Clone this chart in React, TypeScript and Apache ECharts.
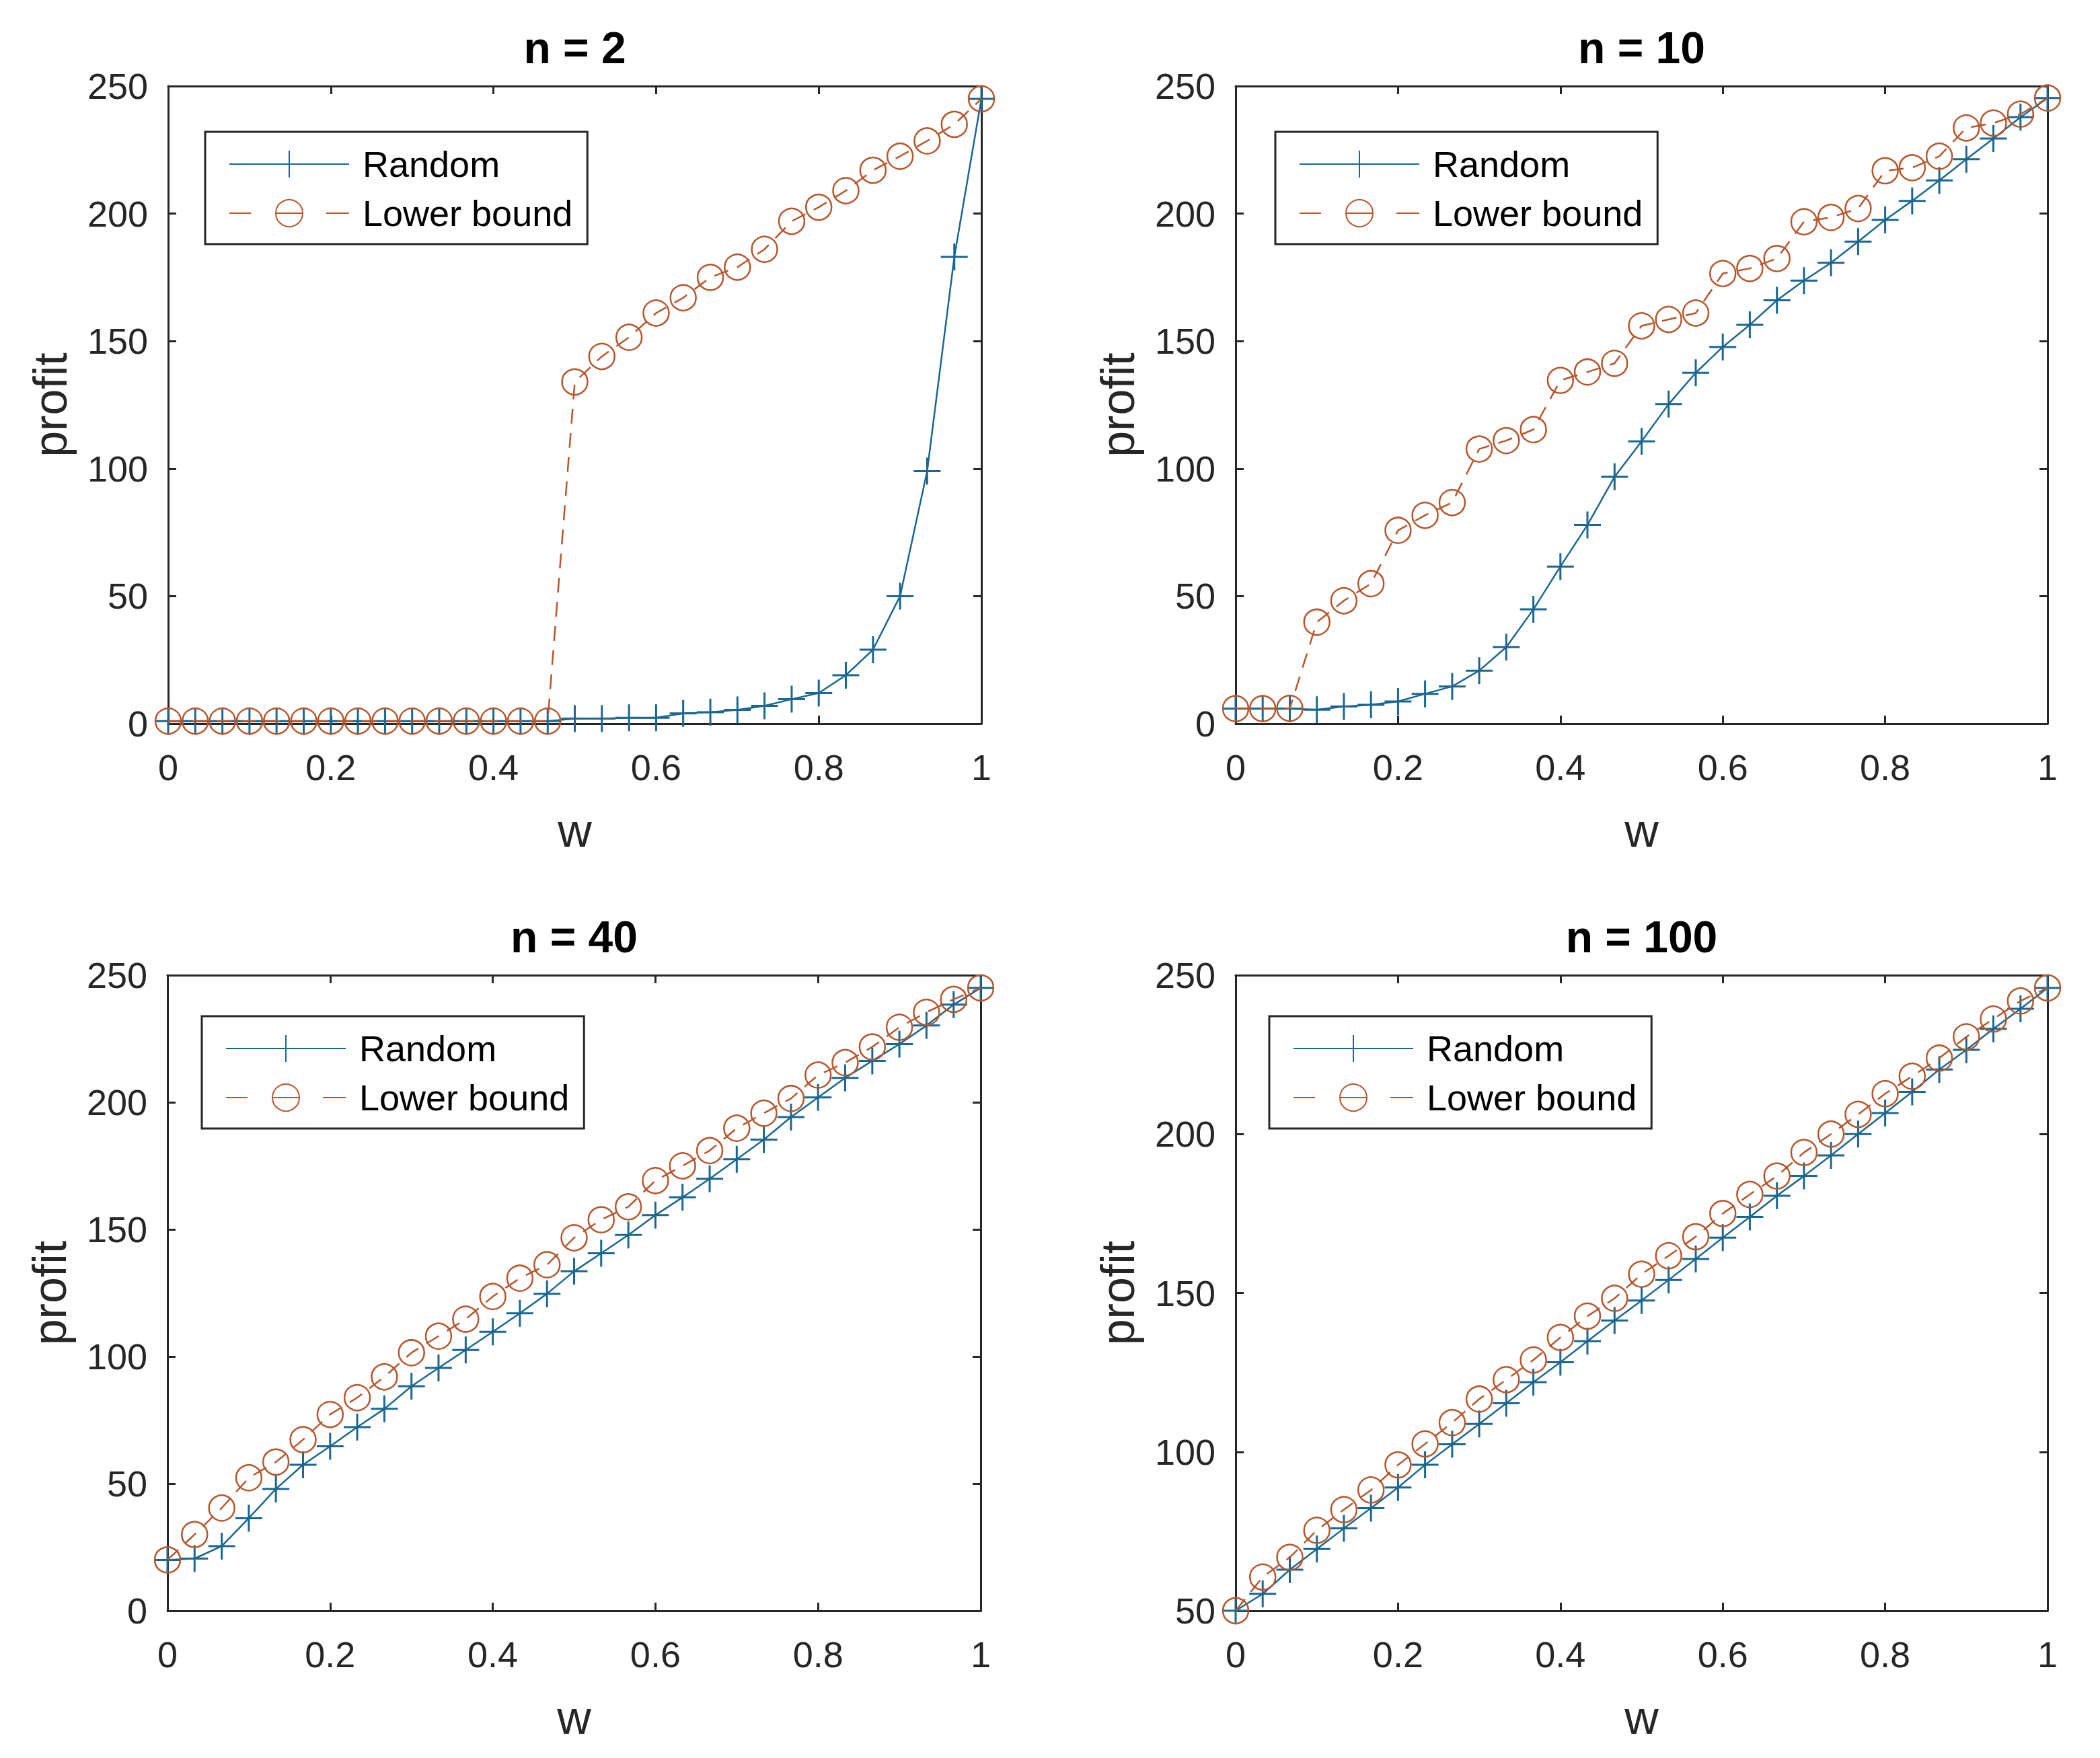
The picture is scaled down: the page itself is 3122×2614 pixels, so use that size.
import React, { useEffect, useRef } from "react";
import * as echarts from "echarts";

// x positions (w)
const W = [
  0, 0.0333, 0.0667, 0.1, 0.1333, 0.1667, 0.2, 0.2333, 0.2667, 0.3, 0.3333,
  0.3667, 0.4, 0.4333, 0.4667, 0.5, 0.5333, 0.5667, 0.6, 0.6333, 0.6667, 0.7,
  0.7333, 0.7667, 0.8, 0.8333, 0.8667, 0.9, 0.9333, 0.9667, 1,
];

const TITLES = ["n = 2", "n = 10", "n = 40", "n = 100"];
const SERIES_NAMES = ["Random", "Lower bound"];

// n = 2
const RANDOM_N2 = [
  1, 1, 1, 1, 1, 1, 1, 1, 1, 1, 1, 1, 1, 1, 1, 2, 2, 2.3, 2.3, 4, 4.5, 5.4, 7,
  9.6, 12, 19, 29, 50, 99, 183, 245,
];
const LOWER_N2 = [
  1, 1, 1, 1, 1, 1, 1, 1, 1, 1, 1, 1, 1, 1, 1, 134, 144, 151.5, 161, 167, 175,
  179, 186, 197, 202.5, 209, 217, 222.5, 228.5, 235, 245,
];

// n = 10
const RANDOM_N10 = [
  5.9, 5.9, 5.9, 5.5, 6.7, 7.4, 8.7, 11.7, 14.6, 20.8, 30, 44.8, 61.6, 77.9,
  96.8, 110.7, 125.3, 137.6, 147.7, 156.4, 166, 173.7, 180.7, 189, 197.5, 205,
  213, 221.3, 229.4, 237.8, 245.3,
];
const LOWER_N10 = [
  5.9, 5.9, 6, 39.8, 48.2, 54.9, 75.8, 81.7, 86.7, 107.7, 111, 115.3, 134.6,
  137.9, 141.3, 156, 158.5, 161, 176.5, 178.5, 182.4, 196.8, 198.5, 202, 216.8,
  218, 222.5, 233.6, 235.5, 239, 245.3,
];

// n = 40
const RANDOM_N40 = [
  20, 20.5, 25.4, 36.4, 47.9, 57.4, 64.7, 72.2, 79.4, 88.3, 95.5, 102.6, 109.7,
  117, 124.7, 133.5, 140.6, 147.8, 155.6, 162.6, 169.9, 177.6, 185.3, 194.2,
  201.9, 209.6, 216.3, 222.9, 230.2, 238.4, 245,
];
const LOWER_N40 = [
  20, 30, 40.4, 52.3, 58.5, 67.3, 77.2, 83.8, 92, 101.5, 108, 114.7, 123.6,
  130.8, 136.1, 146.7, 153.8, 158.9, 169.2, 175, 181, 189.8, 195.7, 201.5,
  210.7, 215.6, 221.8, 229.5, 235.4, 240.5, 245,
];

// n = 100
const RANDOM_N100 = [
  50, 55.3, 62.9, 69.4, 75.9, 82.3, 88.8, 95.9, 102.4, 108.8, 115.3, 121.9,
  128.2, 134.8, 141.3, 147.6, 154.1, 160.7, 167.4, 173.9, 180.6, 186.8, 193.3,
  200, 206.6, 213.3, 220.3, 226.5, 233.1, 239.4, 246,
];
const LOWER_N100 = [
  50, 60.6, 66.8, 75.3, 81.8, 88, 95.9, 102.5, 109.2, 116.6, 122.7, 128.9, 136,
  142.7, 148.3, 155.9, 161.7, 167.7, 175, 181, 186.8, 194.2, 200, 206.2, 212.7,
  218.2, 223.9, 230.6, 236.2, 241.9, 246,
];

const RANDOM_SETS = [RANDOM_N2, RANDOM_N10, RANDOM_N40, RANDOM_N100];
const LOWER_SETS = [LOWER_N2, LOWER_N10, LOWER_N40, LOWER_N100];

const Y_MIN = [0, 0, 0, 50];
const Y_MAX = [250, 250, 250, 250];
const Y_INTERVAL = 50;
const X_MIN = 0;
const X_MAX = 1;
const X_INTERVAL = 0.2;

// layout
const GRIDS = [
  { left: 250, top: 128, width: 1209, height: 948 },
  { left: 1837, top: 128, width: 1207, height: 948 },
  { left: 249, top: 1450, width: 1209, height: 945 },
  { left: 1837, top: 1450, width: 1207, height: 945 },
];
const LEGEND_POS = [
  { left: 305, top: 196 },
  { left: 1896, top: 196 },
  { left: 300, top: 1511 },
  { left: 1887, top: 1511 },
];

const FONT = '"Liberation Sans", Arial, Helvetica, sans-serif';
const BLUE = "#1b6790";
const ORANGE = "#b5572e";
const AXIS = "#262626";
const PLUS = "path://M0,20L40,20M20,0L20,40";

function buildOption() {
  const xAxis: any[] = [];
  const yAxis: any[] = [];
  const series: any[] = [];
  const legend: any[] = [];

  GRIDS.forEach((g, i) => {
    const lineStyle = { color: AXIS, width: 3 };
    const tick = { show: true, inside: true, length: 12, lineStyle: { color: AXIS, width: 3 } };
    xAxis.push({
      type: "value",
      gridIndex: i,
      position: "bottom",
      min: X_MIN,
      max: X_MAX,
      interval: X_INTERVAL,
      axisLine: { show: true, onZero: false, lineStyle },
      axisTick: tick,
      axisLabel: { show: true, margin: 38, fontSize: 54, color: AXIS, fontFamily: FONT },
      splitLine: { show: false },
      name: "w",
      nameLocation: "middle",
      nameGap: 124,
      nameTextStyle: { fontSize: 70, color: AXIS, fontFamily: FONT },
    });
    xAxis.push({
      type: "value",
      gridIndex: i,
      position: "top",
      min: X_MIN,
      max: X_MAX,
      interval: X_INTERVAL,
      axisLine: { show: true, onZero: false, lineStyle },
      axisTick: tick,
      axisLabel: { show: false },
      splitLine: { show: false },
      name: TITLES[i],
      nameLocation: "middle",
      nameGap: 24,
      nameTextStyle: { fontSize: 66, fontWeight: "bold", color: "#000", fontFamily: FONT },
    });
    yAxis.push({
      type: "value",
      gridIndex: i,
      position: "left",
      min: Y_MIN[i],
      max: Y_MAX[i],
      interval: Y_INTERVAL,
      axisLine: { show: true, onZero: false, lineStyle },
      axisTick: tick,
      axisLabel: { show: true, margin: 30, fontSize: 54, color: AXIS, fontFamily: FONT },
      splitLine: { show: false },
      name: "profit",
      nameLocation: "middle",
      nameGap: 140,
      nameTextStyle: { fontSize: 70, color: AXIS, fontFamily: FONT },
    });
    yAxis.push({
      type: "value",
      gridIndex: i,
      position: "right",
      min: Y_MIN[i],
      max: Y_MAX[i],
      interval: Y_INTERVAL,
      axisLine: { show: true, onZero: false, lineStyle },
      axisTick: tick,
      axisLabel: { show: false },
      splitLine: { show: false },
    });

    series.push({
      type: "line",
      name: SERIES_NAMES[0],
      xAxisIndex: 2 * i,
      yAxisIndex: 2 * i,
      data: W.map((w, k) => [w, RANDOM_SETS[i][k]]),
      symbol: PLUS,
      symbolSize: 40,
      lineStyle: { color: BLUE, width: 2.5 },
      itemStyle: { color: BLUE, borderColor: BLUE, borderWidth: 3 },
      emphasis: { disabled: true },
      z: 2,
    });
    series.push({
      type: "line",
      name: SERIES_NAMES[1],
      xAxisIndex: 2 * i,
      yAxisIndex: 2 * i,
      data: W.map((w, k) => [w, LOWER_SETS[i][k]]),
      symbol: "circle",
      symbolSize: 38,
      lineStyle: { color: ORANGE, width: 2.5, type: [22, 14] },
      itemStyle: { color: "transparent", borderColor: ORANGE, borderWidth: 2.5 },
      emphasis: { disabled: true },
      z: 3,
    });

    legend.push({
      orient: "vertical",
      left: LEGEND_POS[i].left,
      top: LEGEND_POS[i].top,
      data: [
        { name: SERIES_NAMES[0] },
        { name: SERIES_NAMES[1], lineStyle: { type: [32, 38, 38, 36, 34] } },
      ],
      itemWidth: 178,
      itemHeight: 50,
      itemGap: 19,
      padding: [21, 22, 19, 35],
      borderColor: AXIS,
      borderWidth: 3,
      borderRadius: 0,
      backgroundColor: "#fff",
      selectedMode: false,
      textStyle: { fontSize: 54, color: "#000", fontFamily: FONT, padding: [0, 0, 0, 15] },
    });
  });

  return {
    animation: false,
    backgroundColor: "#fff",
    grid: GRIDS.map((g) => ({ ...g, containLabel: false })),
    xAxis,
    yAxis,
    series,
    legend,
  };
}

export default function App() {
  const ref = useRef<HTMLDivElement>(null);
  useEffect(() => {
    if (!ref.current) return;
    const chart = echarts.init(ref.current, undefined, { renderer: "svg" });
    chart.setOption(buildOption());
    return () => chart.dispose();
  }, []);
  return (
    <div
      ref={ref}
      style={{ position: "absolute", left: 0, top: 0, width: 3122, height: 2614, background: "#fff" }}
    />
  );
}
